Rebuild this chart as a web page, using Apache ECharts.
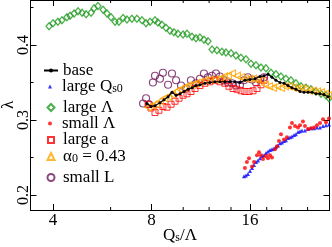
<!DOCTYPE html>
<html>
<head>
<meta charset="utf-8">
<script src="https://cdn.jsdelivr.net/npm/echarts@6/dist/echarts.min.js"></script>
<style>
html, body { margin: 0; padding: 0; background: #fff; }
#chart { width: 332px; height: 247px; }
</style>
</head>
<body>
<div id="chart"></div>
<script>
// axis ticks
var xTickLabels = [4, 8, 16];
var xMinorTicks = [6, 10, 12, 14, 18, 20, 24];
var yTickLabels = [0.2, 0.3, 0.4];
var yMinorTicks = [0.25, 0.35, 0.45];
var xMin = 3.414, xMax = 28, yMin = 0.18, yMax = 0.46;

// base
var baseX = [7.75,7.97,8.20,8.49,8.74,8.99,9.24,9.51,9.78,10.06,10.34,10.64,10.94,11.25,11.65,12.07,12.50,12.95,13.41,13.90,14.40,14.91,15.44,16.00,16.57,17.17,17.66,18.16,18.68,19.21,19.76,20.33,20.90,21.50,22.11,22.75,23.40,24.07,24.76,25.46,26.19,26.94,27.71];
var baseY = [0.322,0.318,0.319,0.323,0.327,0.331,0.337,0.333,0.335,0.338,0.341,0.343,0.346,0.347,0.349,0.350,0.351,0.351,0.351,0.351,0.351,0.350,0.353,0.354,0.355,0.358,0.359,0.361,0.357,0.353,0.350,0.349,0.346,0.343,0.341,0.338,0.337,0.337,0.337,0.335,0.335,0.334,0.331];

// large Qs0
var largeQX = [15.34,15.55,15.77,16.00,16.23,16.46,16.69,16.93,17.17,17.41,17.66,17.91,18.16,18.42,18.68,18.95,19.21,19.49,19.76,20.04,20.33,20.61,20.90,21.20,21.50,21.81,22.11,22.43,22.75,23.07,23.56,24.07,24.58,25.11,25.64,26.19,26.75,27.32,27.90];
var largeQY = [0.225,0.226,0.228,0.232,0.236,0.240,0.244,0.246,0.249,0.252,0.253,0.256,0.258,0.260,0.261,0.262,0.264,0.266,0.269,0.270,0.272,0.273,0.276,0.277,0.278,0.280,0.281,0.284,0.285,0.286,0.286,0.288,0.289,0.289,0.290,0.290,0.292,0.293,0.294];

// large Lambda
var largeLamX = [3.89,4.00,4.14,4.26,4.41,4.51,4.64,4.77,4.91,5.05,5.23,5.34,5.49,5.69,5.85,6.02,6.19,6.36,6.55,6.73,6.97,7.22,7.48,7.70,7.92,8.20,8.37,8.61,8.86,9.11,9.37,9.64,9.99,10.27,10.64,10.94,11.25,11.58,11.91,12.25,12.68,13.14,13.51,14.00,14.50,15.02,15.56,16.11,16.69,17.29,17.91,18.55,19.21,19.90,20.61,21.35,22.11,22.91,23.73,24.58,25.45,26.37,27.31,27.89];
var largeLamY = [0.425,0.429,0.431,0.433,0.437,0.439,0.442,0.445,0.443,0.441,0.443,0.449,0.452,0.447,0.442,0.437,0.431,0.431,0.436,0.434,0.435,0.435,0.433,0.429,0.431,0.433,0.430,0.427,0.423,0.419,0.417,0.415,0.414,0.415,0.411,0.409,0.410,0.407,0.405,0.394,0.393,0.391,0.390,0.389,0.386,0.383,0.381,0.375,0.373,0.370,0.369,0.363,0.361,0.358,0.355,0.353,0.349,0.345,0.343,0.341,0.338,0.335,0.333,0.329];

// small Lambda
var smallLamX = [15.44,15.66,15.89,16.23,16.46,16.81,17.05,17.29,17.54,17.91,18.16,18.42,18.68,19.08,19.35,19.62,19.90,20.33,20.76,21.20,21.50,21.96,22.43,22.75,23.23,23.56,24.07,24.58,25.11,25.64,26.19,26.75,27.32,27.90];
var smallLamY = [0.236,0.244,0.249,0.238,0.244,0.253,0.257,0.253,0.248,0.252,0.249,0.253,0.250,0.261,0.265,0.272,0.281,0.274,0.277,0.290,0.296,0.292,0.290,0.293,0.298,0.292,0.288,0.289,0.290,0.293,0.296,0.301,0.297,0.302];

// large a
var largeAX = [7.81,7.97,8.20,8.43,8.67,8.92,9.18,9.44,9.71,9.99,10.27,10.56,10.87,11.25,11.65,12.07,12.50,12.95,13.41,13.80,14.20,14.60,15.02,15.44,15.89,16.34,16.81,17.29,17.66];
var largeAY = [0.321,0.316,0.310,0.313,0.318,0.317,0.321,0.325,0.329,0.333,0.335,0.338,0.342,0.346,0.349,0.351,0.353,0.351,0.349,0.345,0.342,0.341,0.339,0.338,0.338,0.339,0.342,0.347,0.353];

// alpha0 = 0.43
var alphaX = [7.81,8.03,8.26,8.49,8.74,8.99,9.24,9.51,9.78,10.06,10.34,10.64,10.94,11.25,11.65,12.07,12.50,12.95,13.32,13.70,14.10,14.60,15.02,15.44,15.89,16.34,16.81,17.29,17.78,18.29,18.81,19.35,19.90,20.47,21.05,21.65,22.27,22.91,23.56,24.24,24.93,25.64,26.38,27.13,27.71];
var alphaY = [0.317,0.319,0.321,0.325,0.329,0.331,0.334,0.338,0.341,0.343,0.346,0.347,0.349,0.351,0.353,0.354,0.354,0.355,0.358,0.359,0.362,0.359,0.357,0.355,0.355,0.355,0.354,0.353,0.347,0.345,0.343,0.345,0.343,0.345,0.345,0.343,0.342,0.342,0.341,0.339,0.339,0.338,0.337,0.335,0.333];

// small L
var smallLX = [7.54,7.70,7.86,8.08,8.20,8.49,8.67,8.99,9.24,9.51,9.85,10.20,10.56,10.94,11.25,11.57,11.90,12.24,12.59,12.95,13.32,13.70,14.10,14.50,14.91,15.34,15.77,16.23,16.69,17.17,17.66];
var smallLY = [0.322,0.329,0.321,0.350,0.359,0.355,0.363,0.347,0.362,0.353,0.346,0.342,0.353,0.349,0.355,0.362,0.357,0.359,0.362,0.358,0.353,0.350,0.349,0.346,0.347,0.353,0.357,0.354,0.350,0.354,0.357];

var legendText = {
	'base': 'base',
	'large Qs0': 'large Q{sub|s0}',
	'large Λ': 'large Λ',
	'small Λ': 'small Λ',
	'large a': 'large a',
	'alpha0': 'α{sub|0} = 0.43',
	'small L': 'small L'
};

function zip(xs, ys) {
	return xs.map(function (x, i) { return [x, ys[i]]; });
}

var serif = "'Liberation Serif', 'DejaVu Serif', serif";
var subStyle = { fontFamily: serif, fontSize: 12, lineHeight: 2, verticalAlign: 'bottom', color: '#000' };

// one legend entry: icon centred at x=50, text starting at x=62
function legendItem(name, centerY, w, h, rot) {
	var wide = w > 10;
	return {
		data: [name],
		orient: 'vertical',
		left: wide ? 43 : 50 - w / 2,
		top: centerY - 8,
		itemWidth: w,
		itemHeight: h,
		symbolRotate: rot || 0,
		selectedMode: false,
		padding: 0,
		formatter: function (n) { return legendText[n]; },
		textStyle: {
			fontFamily: serif, fontSize: 17, lineHeight: 16, color: '#000',
			padding: [0, 0, 0, wide ? 0 : 7 - w / 2],
			rich: { sub: subStyle }
		}
	};
}

function frameAxis(pos, isX) {
	var ax = {
		position: pos,
		min: isX ? xMin : yMin,
		max: isX ? xMax : yMax,
		axisLine: { show: true, onZero: false, lineStyle: { color: '#000', width: 1 } },
		axisTick: { show: true, inside: true, length: 6, lineStyle: { color: '#000' } },
		splitLine: { show: false },
		axisLabel: { show: false }
	};
	if (isX) { ax.type = 'log'; ax.logBase = 2; }
	else { ax.type = 'value'; ax.splitNumber = 3; }
	return ax;
}

var xBottom = frameAxis('bottom', true);
xBottom.axisLabel = {
	show: true, margin: 2, showMinLabel: false, showMaxLabel: false,
	fontFamily: serif, fontSize: 17, color: '#000',
	formatter: function (v) {
		var r = Math.round(v);
		return (Math.abs(v - r) < 1e-6 && xTickLabels.indexOf(r) >= 0) ? String(r) : '';
	}
};
xBottom.name = 'Q{sub|s}/Λ';
xBottom.nameLocation = 'middle';
xBottom.nameGap = 18;
xBottom.nameMoveOverlap = false;
xBottom.nameTextStyle = { fontFamily: serif, fontSize: 17, lineHeight: 16, color: '#000', rich: { sub: subStyle } };

var yLeft = frameAxis('left', false);
yLeft.axisLabel = {
	show: true, rotate: 90, margin: -1, showMinLabel: false, showMaxLabel: false,
	fontFamily: serif, fontSize: 16, color: '#000',
	formatter: function (v) {
		for (var i = 0; i < yTickLabels.length; i++) {
			if (Math.abs(yTickLabels[i] - v) < 1e-6) return yTickLabels[i].toFixed(1);
		}
		return '';
	}
};
yLeft.name = 'λ';
yLeft.nameLocation = 'middle';
yLeft.nameRotate = 90;
yLeft.nameGap = 13;
yLeft.nameMoveOverlap = false;
yLeft.nameTextStyle = { fontFamily: serif, fontSize: 17, color: '#000' };

var hollow = function (c, w) { return { color: 'rgba(0,0,0,0)', borderColor: c, borderWidth: w }; };

var chart = echarts.init(document.getElementById('chart'));
chart.setOption({
	animation: false,
	backgroundColor: '#fff',
	grid: { left: 30.5, right: 2.5, top: 0, bottom: 37, outerBoundsMode: 'none' },
	xAxis: [xBottom, frameAxis('top', true)],
	yAxis: [yLeft, frameAxis('right', false)],
	legend: [
		legendItem('base', 70, 14, 5),
		legendItem('large Qs0', 86, 4, 4),
		legendItem('large Λ', 107, 7, 7),
		legendItem('small Λ', 123, 4, 4),
		legendItem('large a', 139.5, 6, 6),
		legendItem('alpha0', 156, 7, 7, 90),
		legendItem('small L', 177, 7, 7)
	],
	series: [
		{
			type: 'custom', silent: true, xAxisIndex: 0, yAxisIndex: 0,
			data: xMinorTicks.map(function (v) { return [v, yMin]; }),
			encode: { x: 0, y: 1 },
			renderItem: function (params, api) {
				var b = api.coord([api.value(0), yMin]);
				var t = api.coord([api.value(0), yMax]);
				var s = { stroke: '#000', lineWidth: 1 };
				return { type: 'group', children: [
					{ type: 'line', shape: { x1: b[0], y1: b[1], x2: b[0], y2: b[1] - 3 }, style: s },
					{ type: 'line', shape: { x1: t[0], y1: t[1], x2: t[0], y2: t[1] + 3 }, style: s }
				] };
			}
		},
		{
			type: 'custom', silent: true, xAxisIndex: 0, yAxisIndex: 0,
			data: yMinorTicks.map(function (v) { return [xMin, v]; }),
			encode: { x: 0, y: 1 },
			renderItem: function (params, api) {
				var l = api.coord([xMin, api.value(1)]);
				var r = api.coord([xMax, api.value(1)]);
				var s = { stroke: '#000', lineWidth: 1 };
				return { type: 'group', children: [
					{ type: 'line', shape: { x1: l[0], y1: l[1], x2: l[0] + 3, y2: l[1] }, style: s },
					{ type: 'line', shape: { x1: r[0], y1: r[1], x2: r[0] - 3, y2: r[1] }, style: s }
				] };
			}
		},
		{
			name: 'large Λ', type: 'scatter', data: zip(largeLamX, largeLamY),
			symbol: 'diamond', symbolSize: [6, 7], itemStyle: hollow('#1f9a1f', 1.3)
		},
		{
			name: 'small L', type: 'scatter', data: zip(smallLX, smallLY),
			symbol: 'circle', symbolSize: 7, itemStyle: hollow('#6e1a5e', 1.2)
		},
		{
			name: 'large a', type: 'scatter', data: zip(largeAX, largeAY),
			symbol: 'rect', symbolSize: 6, itemStyle: hollow('#ff0000', 1)
		},
		{
			name: 'alpha0', type: 'scatter', data: zip(alphaX, alphaY),
			symbol: 'triangle', symbolRotate: 90, symbolSize: 7, itemStyle: hollow('#ffa500', 1.1)
		},
		{
			name: 'base', type: 'line', data: zip(baseX, baseY),
			symbol: 'circle', symbolSize: 3, showSymbol: true,
			itemStyle: { color: '#000' }, lineStyle: { color: '#000', width: 1.2 }
		},
		{
			name: 'large Qs0', type: 'scatter', data: zip(largeQX, largeQY),
			symbol: 'triangle', symbolSize: 4, itemStyle: { color: '#0000ff' }
		},
		{
			name: 'small Λ', type: 'scatter', data: zip(smallLamX, smallLamY),
			symbol: 'circle', symbolSize: 4, itemStyle: { color: '#ff0000' }
		}
	]
});
</script>
</body>
</html>
